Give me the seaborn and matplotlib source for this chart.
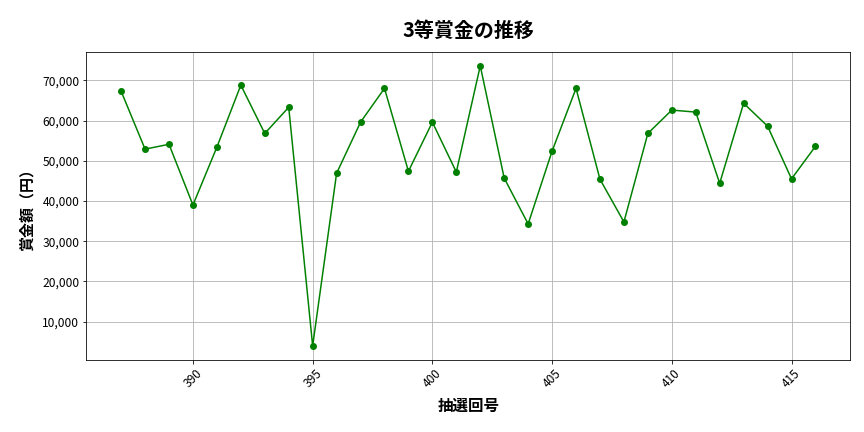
import numpy as np
import pandas as pd
import matplotlib
matplotlib.use("Agg")
import matplotlib.pyplot as plt
import matplotlib.ticker as mticker
import seaborn as sns

# 抽選回号と3等賞金 (円)
draw_numbers = list(range(387, 417))
prize_amounts = [
    67300, 52900, 54100, 39000, 53400, 68800, 56800, 63300, 4000, 46900,
    59600, 68000, 47400, 59600, 47200, 73600, 45700, 34300, 52400, 68000,
    45400, 34800, 56800, 62600, 62100, 44400, 64300, 58600, 45500, 53600,
]

df = pd.DataFrame({"draw": draw_numbers, "prize": prize_amounts})

plt.rcParams["font.family"] = ["Noto Sans CJK JP", "DejaVu Sans"]

fig, ax = plt.subplots(figsize=(12, 6), dpi=72)
sns.lineplot(data=df, x="draw", y="prize", ax=ax, color="green",
             marker="o", markersize=7, markeredgewidth=0, linewidth=1.5)

ax.set_title("3等賞金の推移", fontsize=20, fontweight="bold", pad=15)
ax.set_xlabel("抽選回号", fontsize=15.5, fontweight="bold", labelpad=8)
ax.set_ylabel("賞金額（円）", fontsize=15, fontweight="bold", labelpad=8)

ax.yaxis.set_major_formatter(mticker.FuncFormatter(lambda v, p: f"{int(v):,}"))
ax.xaxis.set_major_locator(mticker.MultipleLocator(5))
plt.setp(ax.get_xticklabels(), rotation=45)
ax.tick_params(labelsize=12)
ax.grid(True, color="#b0b0b0", linewidth=0.8)

fig.subplots_adjust(left=0.1, right=0.984, top=0.88, bottom=0.167)
plt.savefig("out.png", dpi=72)
